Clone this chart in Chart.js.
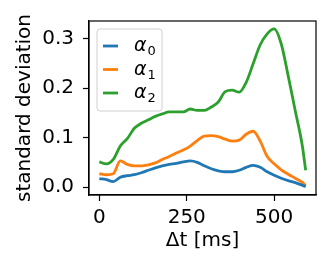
<!DOCTYPE html>
<html>
<head>
<meta charset="utf-8">
<script src="https://cdn.jsdelivr.net/npm/chart.js@4/dist/chart.umd.min.js"></script>
<style>
  html, body { margin: 0; padding: 0; background: #fff; }
  #wrap { width: 331px; height: 273px; }
</style>
</head>
<body>
<div id="wrap"><canvas id="sdChart" width="331" height="273"></canvas></div>
<script>
// time offsets in ms
const dt = [0, 20, 40, 60, 80, 100, 120, 140, 160, 180, 200, 220, 240, 260, 280, 300,
  320, 340, 360, 380, 400, 420, 440, 460, 480, 500, 520, 540, 560, 580, 590];

const alpha0 = [0.017, 0.015, 0.011, 0.020, 0.023, 0.025, 0.029, 0.034, 0.039, 0.043, 0.046,
  0.048, 0.051, 0.053, 0.050, 0.043, 0.037, 0.033, 0.031, 0.031, 0.034, 0.040, 0.044, 0.040,
  0.031, 0.024, 0.018, 0.013, 0.009, 0.004, 0.001];

const alpha1 = [0.027, 0.025, 0.027, 0.053, 0.046, 0.043, 0.043, 0.045, 0.049, 0.056, 0.062,
  0.069, 0.075, 0.083, 0.094, 0.103, 0.104, 0.102, 0.097, 0.093, 0.095, 0.107, 0.113, 0.093,
  0.062, 0.047, 0.035, 0.026, 0.018, 0.010, 0.003];

const alpha2 = [0.051, 0.047, 0.056, 0.083, 0.098, 0.119, 0.129, 0.136, 0.143, 0.148, 0.152,
  0.152, 0.152, 0.158, 0.155, 0.155, 0.162, 0.172, 0.193, 0.196, 0.192, 0.212, 0.250, 0.288,
  0.310, 0.320, 0.290, 0.225, 0.155, 0.085, 0.034];

const xTicks = [0, 250, 500];
const yTicks = [0, 0.1, 0.2, 0.3];
const seriesNames = ["0", "1", "2"]; // subscripts of alpha

const colors = ["#1f77b4", "#ff7f0e", "#2ca02c"];
const font = "DejaVu Sans";

function pts(ys){
  return dt.map((x, i) => ({x: x, y: ys[i]}));
}

// frame + legend drawn inside the plot
const framePlugin = {
  id: "frame",
  afterDatasetsDraw(chart){
    const {ctx, chartArea: a} = chart;
    ctx.save();
    ctx.strokeStyle = "#000";
    ctx.lineWidth = 1.2;
    ctx.strokeRect(a.left, a.top, a.right - a.left, a.bottom - a.top);

    // legend
    const bx = a.left + 8, by = a.top + 8, bw = 65, bh = 82;
    ctx.fillStyle = "rgba(255,255,255,0.8)";
    ctx.strokeStyle = "#d0d0d0";
    ctx.lineWidth = 1;
    ctx.beginPath();
    ctx.roundRect(bx, by, bw, bh, 3);
    ctx.fill();
    ctx.stroke();

    chart.data.datasets.forEach((ds, i) => {
      const y = by + 17 + i * 23.5;
      ctx.strokeStyle = ds.borderColor;
      ctx.lineWidth = 2.8;
      ctx.beginPath();
      ctx.moveTo(bx + 6, y);
      ctx.lineTo(bx + 21, y);
      ctx.stroke();
      ctx.fillStyle = "#000";
      ctx.textBaseline = "alphabetic";
      ctx.font = "italic 19px '" + font + "'";
      ctx.fillText("α", bx + 37, y + 5);
      const w = ctx.measureText("α").width;
      ctx.font = "13px '" + font + "'";
      ctx.fillText(seriesNames[i], bx + 37 + w + 1, y + 9);
    });
    ctx.restore();
  }
};

new Chart(document.getElementById("sdChart"), {
  type: "line",
  data: {
    datasets: [
      {label: "α0", data: pts(alpha0), borderColor: colors[0]},
      {label: "α1", data: pts(alpha1), borderColor: colors[1]},
      {label: "α2", data: pts(alpha2), borderColor: colors[2]}
    ]
  },
  options: {
    responsive: false,
    animation: false,
    events: [],
    layout: {padding: {left: 0, right: 15, top: 13, bottom: 0}},
    elements: {
      line: {borderWidth: 2.8, cubicInterpolationMode: "monotone", fill: false},
      point: {radius: 0}
    },
    plugins: {legend: {display: false}, tooltip: {enabled: false}},
    scales: {
      x: {
        type: "linear",
        min: -29.5,
        max: 619.5,
        afterBuildTicks(s){ s.ticks = xTicks.map(v => ({value: v})); },
        afterFit(s){ s.height = 78; },
        grid: {drawOnChartArea: false, drawTicks: true, tickLength: 6, tickWidth: 1.2, color: "#000"},
        border: {display: true, color: "#000", width: 1.2},
        ticks: {color: "#000", padding: 5, maxRotation: 0, font: {family: font, size: 20}},
        title: {display: true, text: "Δt [ms]", color: "#000", padding: {top: 0, bottom: 20},
          font: {family: font, size: 20}}
      },
      y: {
        min: -0.016,
        max: 0.336,
        afterBuildTicks(s){ s.ticks = yTicks.map(v => ({value: v})); },
        afterFit(s){ s.width = 89; },
        grid: {drawOnChartArea: false, drawTicks: true, tickLength: 6, tickWidth: 1.2, color: "#000"},
        border: {display: true, color: "#000", width: 1.2},
        ticks: {color: "#000", padding: 9, font: {family: font, size: 20},
          callback: v => v.toFixed(1)},
        title: {display: true, text: "standard deviation", color: "#000", padding: {top: 13, bottom: 0},
          font: {family: font, size: 20}}
      }
    }
  },
  plugins: [framePlugin]
});
</script>
</body>
</html>
